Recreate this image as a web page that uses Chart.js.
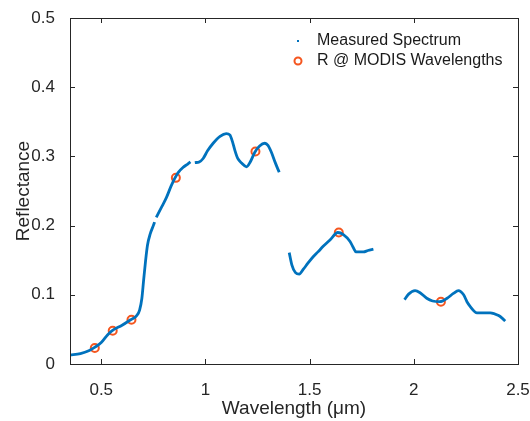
<!DOCTYPE html>
<html>
<head>
<meta charset="utf-8">
<script src="https://cdn.jsdelivr.net/npm/chart.js@4.4.1/dist/chart.umd.min.js"></script>
<style>
  html, body { margin: 0; padding: 0; background: #fff; }
  #wrap { width: 530px; height: 421px; }
</style>
</head>
<body>
<div id="wrap"><canvas id="chart" width="530" height="421"></canvas></div>
<script>
// measured spectrum, null = gap in the record
const wavelengths = [
  0.35, 0.40, 0.44, 0.468, 0.50, 0.53, 0.551, 0.60, 0.641, 0.67, 0.684, 0.695, 0.703, 0.713,
  0.722, 0.735, 0.750, 0.756, 0.760, 0.764, 0.79, 0.812, 0.835, 0.852, 0.87, 0.892, 0.915, 0.928,
  0.94, 0.949, 0.97, 0.989, 1.01, 1.037, 1.07, 1.10, 1.117, 1.13, 1.141, 1.155, 1.175, 1.197,
  1.215, 1.237, 1.26, 1.285, 1.30, 1.315, 1.335, 1.354, 1.38,
  1.402, 1.415, 1.432, 1.45, 1.47, 1.49, 1.517, 1.54, 1.565, 1.60, 1.635, 1.662, 1.694, 1.71,
  1.723, 1.74, 1.758, 1.78, 1.806, 1.88,
  1.955, 1.975, 2.006, 2.03, 2.062, 2.09, 2.125, 2.16, 2.19, 2.214, 2.239, 2.255, 2.271, 2.303,
  2.335, 2.367, 2.407, 2.425, 2.439,
];
const reflectance = [
  0.013, 0.015, 0.019, 0.024, 0.031, 0.042, 0.048, 0.056, 0.064, 0.070, 0.078, 0.095, 0.120, 0.150,
  0.172, 0.188, 0.200, 0.205, null, 0.212, 0.227, 0.240, 0.257, 0.268, 0.277, 0.284, 0.289, 0.292,
  null, 0.291, 0.292, 0.297, 0.308, 0.319, 0.329, 0.333, 0.331, 0.321, 0.309, 0.297, 0.290, 0.285,
  0.292, 0.306, 0.315, 0.319, 0.316, 0.307, 0.291, 0.277, null,
  0.161, 0.143, 0.132, 0.130, 0.137, 0.145, 0.155, 0.162, 0.170, 0.180, 0.190, 0.187, 0.177, 0.168,
  0.162, 0.162, 0.162, 0.164, 0.166, null,
  0.093, 0.101, 0.106, 0.103, 0.095, 0.091, 0.090, 0.095, 0.102, 0.106, 0.100, 0.090, 0.083, 0.074,
  0.074, 0.074, 0.070, 0.066, 0.062,
];

// reflectance sampled at MODIS band centres
const modisWavelengths = [0.469, 0.555, 0.645, 0.858, 1.240, 1.640, 2.130];
const modisReflectance = [0.023, 0.048, 0.064, 0.269, 0.307, 0.190, 0.090];

const xTicks = [0.5, 1, 1.5, 2, 2.5];
const yTicks = [0, 0.1, 0.2, 0.3, 0.4, 0.5];

const blue = "#0072BD";
const orange = "#F5561F";
const axisColor = "#262626";
const fontFamily = "'Liberation Sans', Arial, sans-serif";

const boxAndTicks = {
  id: "boxAndTicks",
  afterDraw(chart) {
    const { ctx, chartArea: a, scales } = chart;
    const len = 5;
    ctx.save();
    ctx.strokeStyle = axisColor;
    ctx.lineWidth = 1;
    ctx.strokeRect(a.left + 0.5, a.top + 0.5, a.right - a.left, a.bottom - a.top);
    ctx.beginPath();
    scales.x.ticks.forEach((t) => {
      const px = Math.round(scales.x.getPixelForValue(t.value)) + 0.5;
      ctx.moveTo(px, a.bottom);
      ctx.lineTo(px, a.bottom - len);
      ctx.moveTo(px, a.top);
      ctx.lineTo(px, a.top + len);
    });
    scales.y.ticks.forEach((t) => {
      const py = Math.round(scales.y.getPixelForValue(t.value)) + 0.5;
      ctx.moveTo(a.left, py);
      ctx.lineTo(a.left + len, py);
      ctx.moveTo(a.right, py);
      ctx.lineTo(a.right - len, py);
    });
    ctx.stroke();
    ctx.restore();
  },
};

const legendInside = {
  id: "legendInside",
  afterDraw(chart) {
    const { ctx, chartArea: a } = chart;
    const markerX = a.right - 220;
    const textX = a.right - 201;
    const rows = [a.top + 23, a.top + 43];
    ctx.save();
    ctx.font = `16px ${fontFamily}`;
    ctx.fillStyle = "#1a1a1a";
    ctx.textBaseline = "middle";
    ctx.fillText("Measured Spectrum", textX, rows[0]);
    ctx.fillText("R @ MODIS Wavelengths", textX, rows[1]);
    ctx.fillStyle = blue;
    ctx.fillRect(markerX - 1, rows[0] - 1, 2, 2);
    ctx.strokeStyle = orange;
    ctx.lineWidth = 2;
    ctx.beginPath();
    ctx.arc(markerX, rows[1], 3.5, 0, Math.PI * 2);
    ctx.stroke();
    ctx.restore();
  },
};

new Chart(document.getElementById("chart"), {
  type: "scatter",
  data: {
    datasets: [
      {
        label: "Measured Spectrum",
        data: wavelengths.map((w, i) => ({ x: w, y: reflectance[i] })),
        showLine: true,
        spanGaps: false,
        borderColor: blue,
        borderWidth: 2.8,
        pointRadius: 0,
        tension: 0.3,
        cubicInterpolationMode: "monotone",
      },
      {
        label: "R @ MODIS Wavelengths",
        data: modisWavelengths.map((w, i) => ({ x: w, y: modisReflectance[i] })),
        showLine: false,
        pointRadius: 4,
        pointBorderWidth: 2,
        pointBorderColor: orange,
        pointBackgroundColor: "rgba(0,0,0,0)",
      },
    ],
  },
  options: {
    responsive: false,
    animation: false,
    layout: { padding: { top: 18, right: 12, bottom: 0, left: 0 } },
    plugins: { legend: { display: false }, tooltip: { enabled: false } },
    scales: {
      x: {
        type: "linear",
        min: 0.35,
        max: 2.5,
        afterBuildTicks: (scale) => {
          scale.ticks = xTicks.map((v) => ({ value: v }));
        },
        afterFit: (scale) => {
          scale.height = 57;
          scale.paddingLeft = 0;
          scale.paddingRight = 0;
        },
        grid: { display: false },
        border: { display: false },
        ticks: {
          padding: 8,
          color: axisColor,
          font: { family: fontFamily, size: 17 },
          callback: (v) => String(v),
        },
        title: {
          display: true,
          text: "Wavelength (\u03bcm)",
          color: axisColor,
          font: { family: fontFamily, size: 19 },
          padding: { top: 0, bottom: 1 },
        },
      },
      y: {
        min: 0,
        max: 0.5,
        afterBuildTicks: (scale) => {
          scale.ticks = yTicks.map((v) => ({ value: v }));
        },
        afterFit: (scale) => {
          scale.width = 70;
          scale.paddingTop = 0;
          scale.paddingBottom = 0;
        },
        grid: { display: false },
        border: { display: false },
        ticks: {
          padding: 7,
          color: axisColor,
          font: { family: fontFamily, size: 17 },
          callback: (v) => String(v),
        },
        title: {
          display: true,
          text: "Reflectance",
          color: axisColor,
          font: { family: fontFamily, size: 19 },
          padding: { top: 12, bottom: 0 },
        },
      },
    },
  },
  plugins: [boxAndTicks, legendInside],
});
</script>
</body>
</html>
